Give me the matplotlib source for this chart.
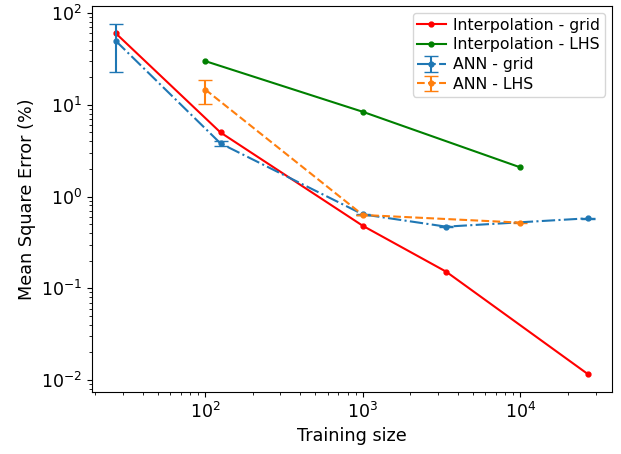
import matplotlib
matplotlib.use("Agg")
import matplotlib.pyplot as plt
import numpy as np

grid_sizes = [27, 125, 1000, 3375, 27000]
lhs_sizes = [100, 1000, 10000]

interp_grid = [60.5, 5.0, 0.48, 0.152, 0.0115]
interp_lhs = [30.0, 8.4, 2.08]

ann_grid = [50.0, 3.8, 0.64, 0.47, 0.58]
ann_grid_lo = [23.0, 3.6, 0.63, 0.465, 0.575]
ann_grid_hi = [77.0, 4.0, 0.65, 0.475, 0.585]

ann_lhs = [14.7, 0.63, 0.52]
ann_lhs_lo = [10.2, 0.625, 0.515]
ann_lhs_hi = [18.5, 0.635, 0.525]

fig = plt.figure(figsize=(6.21, 4.54), dpi=100)
ax = fig.add_axes([92/621, 1 - 392/454, 520/621, 386/454])

ax.plot(grid_sizes, interp_grid, '.-', color='red', lw=1.5, ms=7, label='Interpolation - grid')
ax.plot(lhs_sizes, interp_lhs, '.-', color='green', lw=1.5, ms=7, label='Interpolation - LHS')

g = np.array(ann_grid)
ax.errorbar(grid_sizes, ann_grid,
            yerr=[g - np.array(ann_grid_lo), np.array(ann_grid_hi) - g],
            fmt='.-.', color='#1f77b4', lw=1.5, ms=7, capsize=5, label='ANN - grid')
l = np.array(ann_lhs)
ax.errorbar(lhs_sizes, ann_lhs,
            yerr=[l - np.array(ann_lhs_lo), np.array(ann_lhs_hi) - l],
            fmt='.--', color='#ff7f0e', lw=1.5, ms=7, capsize=5, label='ANN - LHS')

ax.set_xscale('log')
ax.set_yscale('log')
ax.set_xlabel('Training size', fontsize=12.7)
ax.set_ylabel('Mean Square Error (%)', fontsize=12.7)
ax.tick_params(labelsize=12.5)
ax.legend(loc='upper right', fontsize=11.3, labelspacing=0.3, borderpad=0.3,
          handlelength=1.8, handletextpad=0.5, borderaxespad=0.45)

fig.savefig('out.png', dpi=100)
